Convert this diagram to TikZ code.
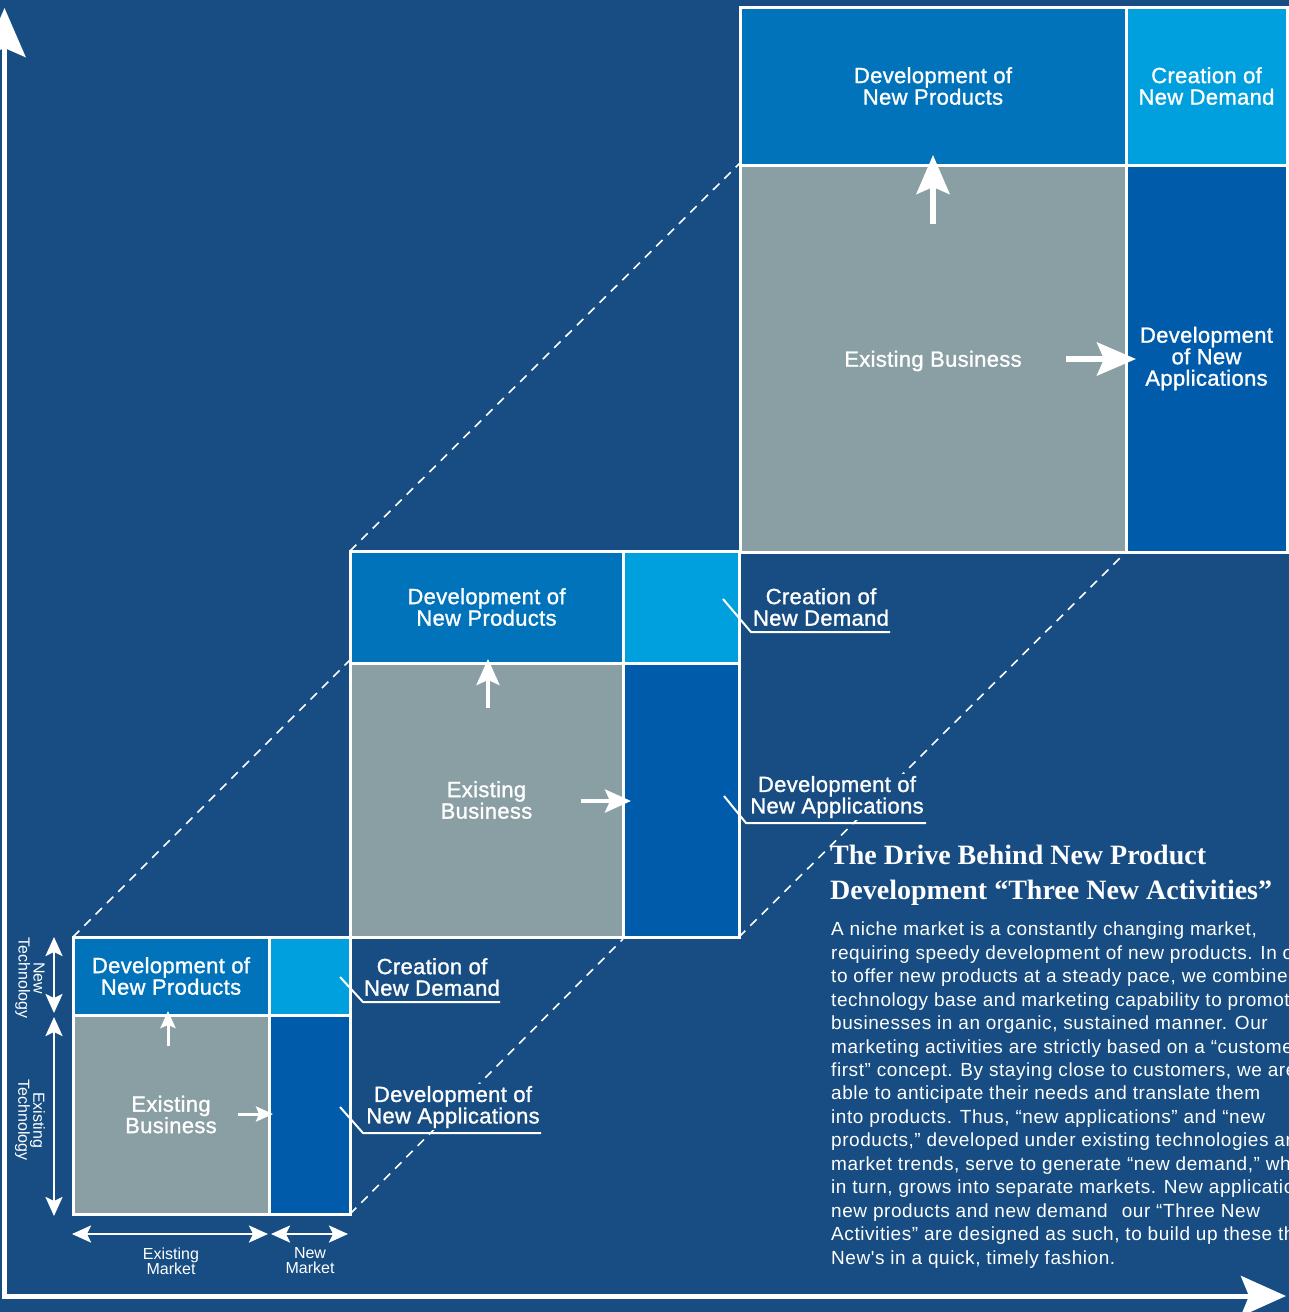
\documentclass[tikz,border=0pt]{standalone}
\usepackage{fontspec}
\setmainfont{Liberation Sans}
\newfontfamily\headfont{Liberation Serif}
\newfontfamily\boxfont{Liberation Sans}[LetterSpace=1.5, FakeBold=1.2]
\newfontfamily\bodyfont{Liberation Sans}[LetterSpace=3]
\usetikzlibrary{arrows.meta}
\definecolor{bgblue}{RGB}{23,77,130}
\definecolor{devprod}{RGB}{0,115,187}
\definecolor{newdem}{RGB}{0,160,223}
\definecolor{newapp}{RGB}{0,91,170}
\definecolor{exgray}{RGB}{138,159,164}
\begin{document}
\begin{tikzpicture}[x=1pt,y=-1pt,
  cell/.style={draw=white, line width=3pt, anchor=north west, inner sep=0pt, outer sep=0pt,
    align=center, text=white, font=\boxfont\fontsize{22}{21.5}\selectfont},
  celltext/.style={align=center, text=white, inner sep=0pt, font=\boxfont\fontsize{22}{21.5}\selectfont},
  callout/.style={align=center, text=white, inner sep=2pt, font=\boxfont\fontsize{22}{21.5}\selectfont},
  leader/.style={draw=white, line width=2pt},
  diag/.style={draw=white, line width=1.6pt, dash pattern=on 9pt off 7pt},
  arrL/.style={draw=white, line width=5.5pt, -{Stealth[length=39pt,width=33pt,inset=7pt]}},
  arrM/.style={draw=white, line width=4pt, -{Stealth[length=26pt,width=23pt,inset=5pt]}},
  arrS/.style={draw=white, line width=3pt, -{Stealth[length=17pt,width=15pt,inset=3pt]}},
  dblarr/.style={draw=white, line width=2.5pt, {Stealth[length=19pt,width=17pt,inset=4pt]}-{Stealth[length=19pt,width=17pt,inset=4pt]}},
  axislbl/.style={align=center, text=white, inner sep=0pt, font=\fontsize{16}{15}\selectfont},
]
\useasboundingbox (0,0) rectangle (1289,1312);
\fill[bgblue] (0,0) rectangle (1289,1312);

% axes
\coordinate (axTop) at (4.5,8);
\coordinate (axOrig) at (4.5,1296);
\coordinate (axRight) at (1286,1296);
\draw[white, line width=5pt, line join=miter,
  {Stealth[length=49pt,width=42pt,inset=9pt]}-{Stealth[length=45pt,width=40pt,inset=8pt]}]
  (axTop) -- (axOrig) -- (axRight);

% dashed diagonals
\coordinate (d1a) at (73,937);   \coordinate (d1b) at (350,660);
\coordinate (d2a) at (350,551);  \coordinate (d2b) at (740,163);
\coordinate (d3a) at (350,1214); \coordinate (d3b) at (623,939);
\coordinate (d4a) at (739,937);  \coordinate (d4b) at (1126,552);
\draw[diag] (d1a) -- (d1b);
\draw[diag] (d2a) -- (d2b);
\draw[diag] (d3a) -- (d3b);
\draw[diag] (d4a) -- (d4b);

% large box
\node[cell, fill=devprod, minimum width=386pt, minimum height=158pt] (lDP) at (740,7) {Development of\\New Products};
\node[cell, fill=newdem, minimum width=161pt, minimum height=158pt] (lCD) at (1126,7) {Creation of\\New Demand};
\node[cell, fill=exgray, minimum width=386pt, minimum height=387pt] (lEB) at (740,165) {};
\node[celltext] (lEBtxt) at (933,361) {Existing Business};
\node[cell, fill=newapp, minimum width=161pt, minimum height=387pt] (lNA) at (1126,165) {Development\\of New\\Applications};

% medium box
\node[cell, fill=devprod, minimum width=273pt, minimum height=112pt] (mDP) at (350,551) {Development of\\New Products};
\node[cell, fill=newdem, minimum width=116pt, minimum height=112pt] (mCD) at (623,551) {};
\node[cell, fill=exgray, minimum width=273pt, minimum height=274pt] (mEB) at (350,663) {Existing\\Business};
\node[cell, fill=newapp, minimum width=116pt, minimum height=274pt] (mNA) at (623,663) {};

% small box
\node[cell, fill=devprod, minimum width=196pt, minimum height=78pt] (sDP) at (73,937) {Development of\\New Products};
\node[cell, fill=newdem, minimum width=81pt, minimum height=78pt] (sCD) at (269,937) {};
\node[cell, fill=exgray, minimum width=196pt, minimum height=199pt] (sEB) at (73,1015) {Existing\\Business};
\node[cell, fill=newapp, minimum width=81pt, minimum height=199pt] (sNA) at (269,1015) {};

% arrows inside boxes
\coordinate (lUpA) at (933,224);  \coordinate (lUpB) at (933,155);
\coordinate (lRtA) at (1066,359); \coordinate (lRtB) at (1136,359);
\draw[arrL] (lUpA) -- (lUpB);
\draw[arrL] (lRtA) -- (lRtB);
\coordinate (mUpA) at (488,708);  \coordinate (mUpB) at (488,659);
\coordinate (mRtA) at (581,801);  \coordinate (mRtB) at (631,801);
\draw[arrM] (mUpA) -- (mUpB);
\draw[arrM] (mRtA) -- (mRtB);
\coordinate (sUpA) at (168,1046); \coordinate (sUpB) at (168,1011);
\coordinate (sRtA) at (238,1114); \coordinate (sRtB) at (273,1114);
\draw[arrS] (sUpA) -- (sUpB);
\draw[arrS] (sRtA) -- (sRtB);

% callouts medium
\node[callout] (mCDlab) at (821,607) {Creation of\\New Demand};
\coordinate (mCDa) at (723,599); \coordinate (mCDb) at (751,632); \coordinate (mCDc) at (890,632);
\draw[leader] (mCDa) -- (mCDb) -- (mCDc);
\node[callout, fill=bgblue] (mNAlab) at (837,797) {Development of\\New Applications};
\coordinate (mNAa) at (724,796); \coordinate (mNAb) at (746,823); \coordinate (mNAc) at (926,823);
\draw[leader] (mNAa) -- (mNAb) -- (mNAc);

% callouts small
\node[callout] (sCDlab) at (432,977) {Creation of\\New Demand};
\coordinate (sCDa) at (340,977); \coordinate (sCDb) at (363,1002); \coordinate (sCDc) at (500,1002);
\draw[leader] (sCDa) -- (sCDb) -- (sCDc);
\node[callout, fill=bgblue] (sNAlab) at (453,1107) {Development of\\New Applications};
\coordinate (sNAa) at (340,1107); \coordinate (sNAb) at (363,1133); \coordinate (sNAc) at (541,1133);
\draw[leader] (sNAa) -- (sNAb) -- (sNAc);

% axis arrows and labels
\coordinate (vA1) at (54,937);  \coordinate (vB1) at (54,1013);
\coordinate (vA2) at (54,1017); \coordinate (vB2) at (54,1216);
\coordinate (hA1) at (72,1234); \coordinate (hB1) at (268,1234);
\coordinate (hA2) at (271,1234); \coordinate (hB2) at (348,1234);
\draw[dblarr] (vA1) -- (vB1);
\draw[dblarr] (vA2) -- (vB2);
\draw[dblarr] (hA1) -- (hB1);
\draw[dblarr] (hA2) -- (hB2);
\node[axislbl] (exmkt) at (171,1261) {Existing\\Market};
\node[axislbl] (nwmkt) at (310,1261) {New\\Market};
\node[axislbl, rotate=-90] (nwtech) at (30,978) {New\\Technology};
\node[axislbl, rotate=-90] (extech) at (30,1120) {Existing\\Technology};

% heading and body text
\node[anchor=north west, inner sep=0pt, align=left, text=white,
  font=\headfont\bfseries\fontsize{28}{35}\selectfont] (head) at (830,845)
  {The Drive Behind New Product\\Development “Three New Activities”};
\node[anchor=north west, inner sep=0pt, align=left, text=white,
  font=\bodyfont\fontsize{19}{23.43}\selectfont] (body) at (831,922)
  {A niche market is a constantly changing market,\\
   requiring speedy development of new products. In order\\
   to offer new products at a steady pace, we combine our\\
   technology base and marketing capability to promote\\
   businesses in an organic, sustained manner. Our\\
   marketing activities are strictly based on a “customer\\
   first” concept. By staying close to customers, we are\\
   able to anticipate their needs and translate them\\
   into products. Thus, “new applications” and “new\\
   products,” developed under existing technologies and\\
   market trends, serve to generate “new demand,” which,\\
   in turn, grows into separate markets. New applications,\\
   new products and new demand\hspace{14pt}our “Three New\\
   Activities” are designed as such, to build up these three\\
   New's in a quick, timely fashion.};
\end{tikzpicture}
\end{document}
